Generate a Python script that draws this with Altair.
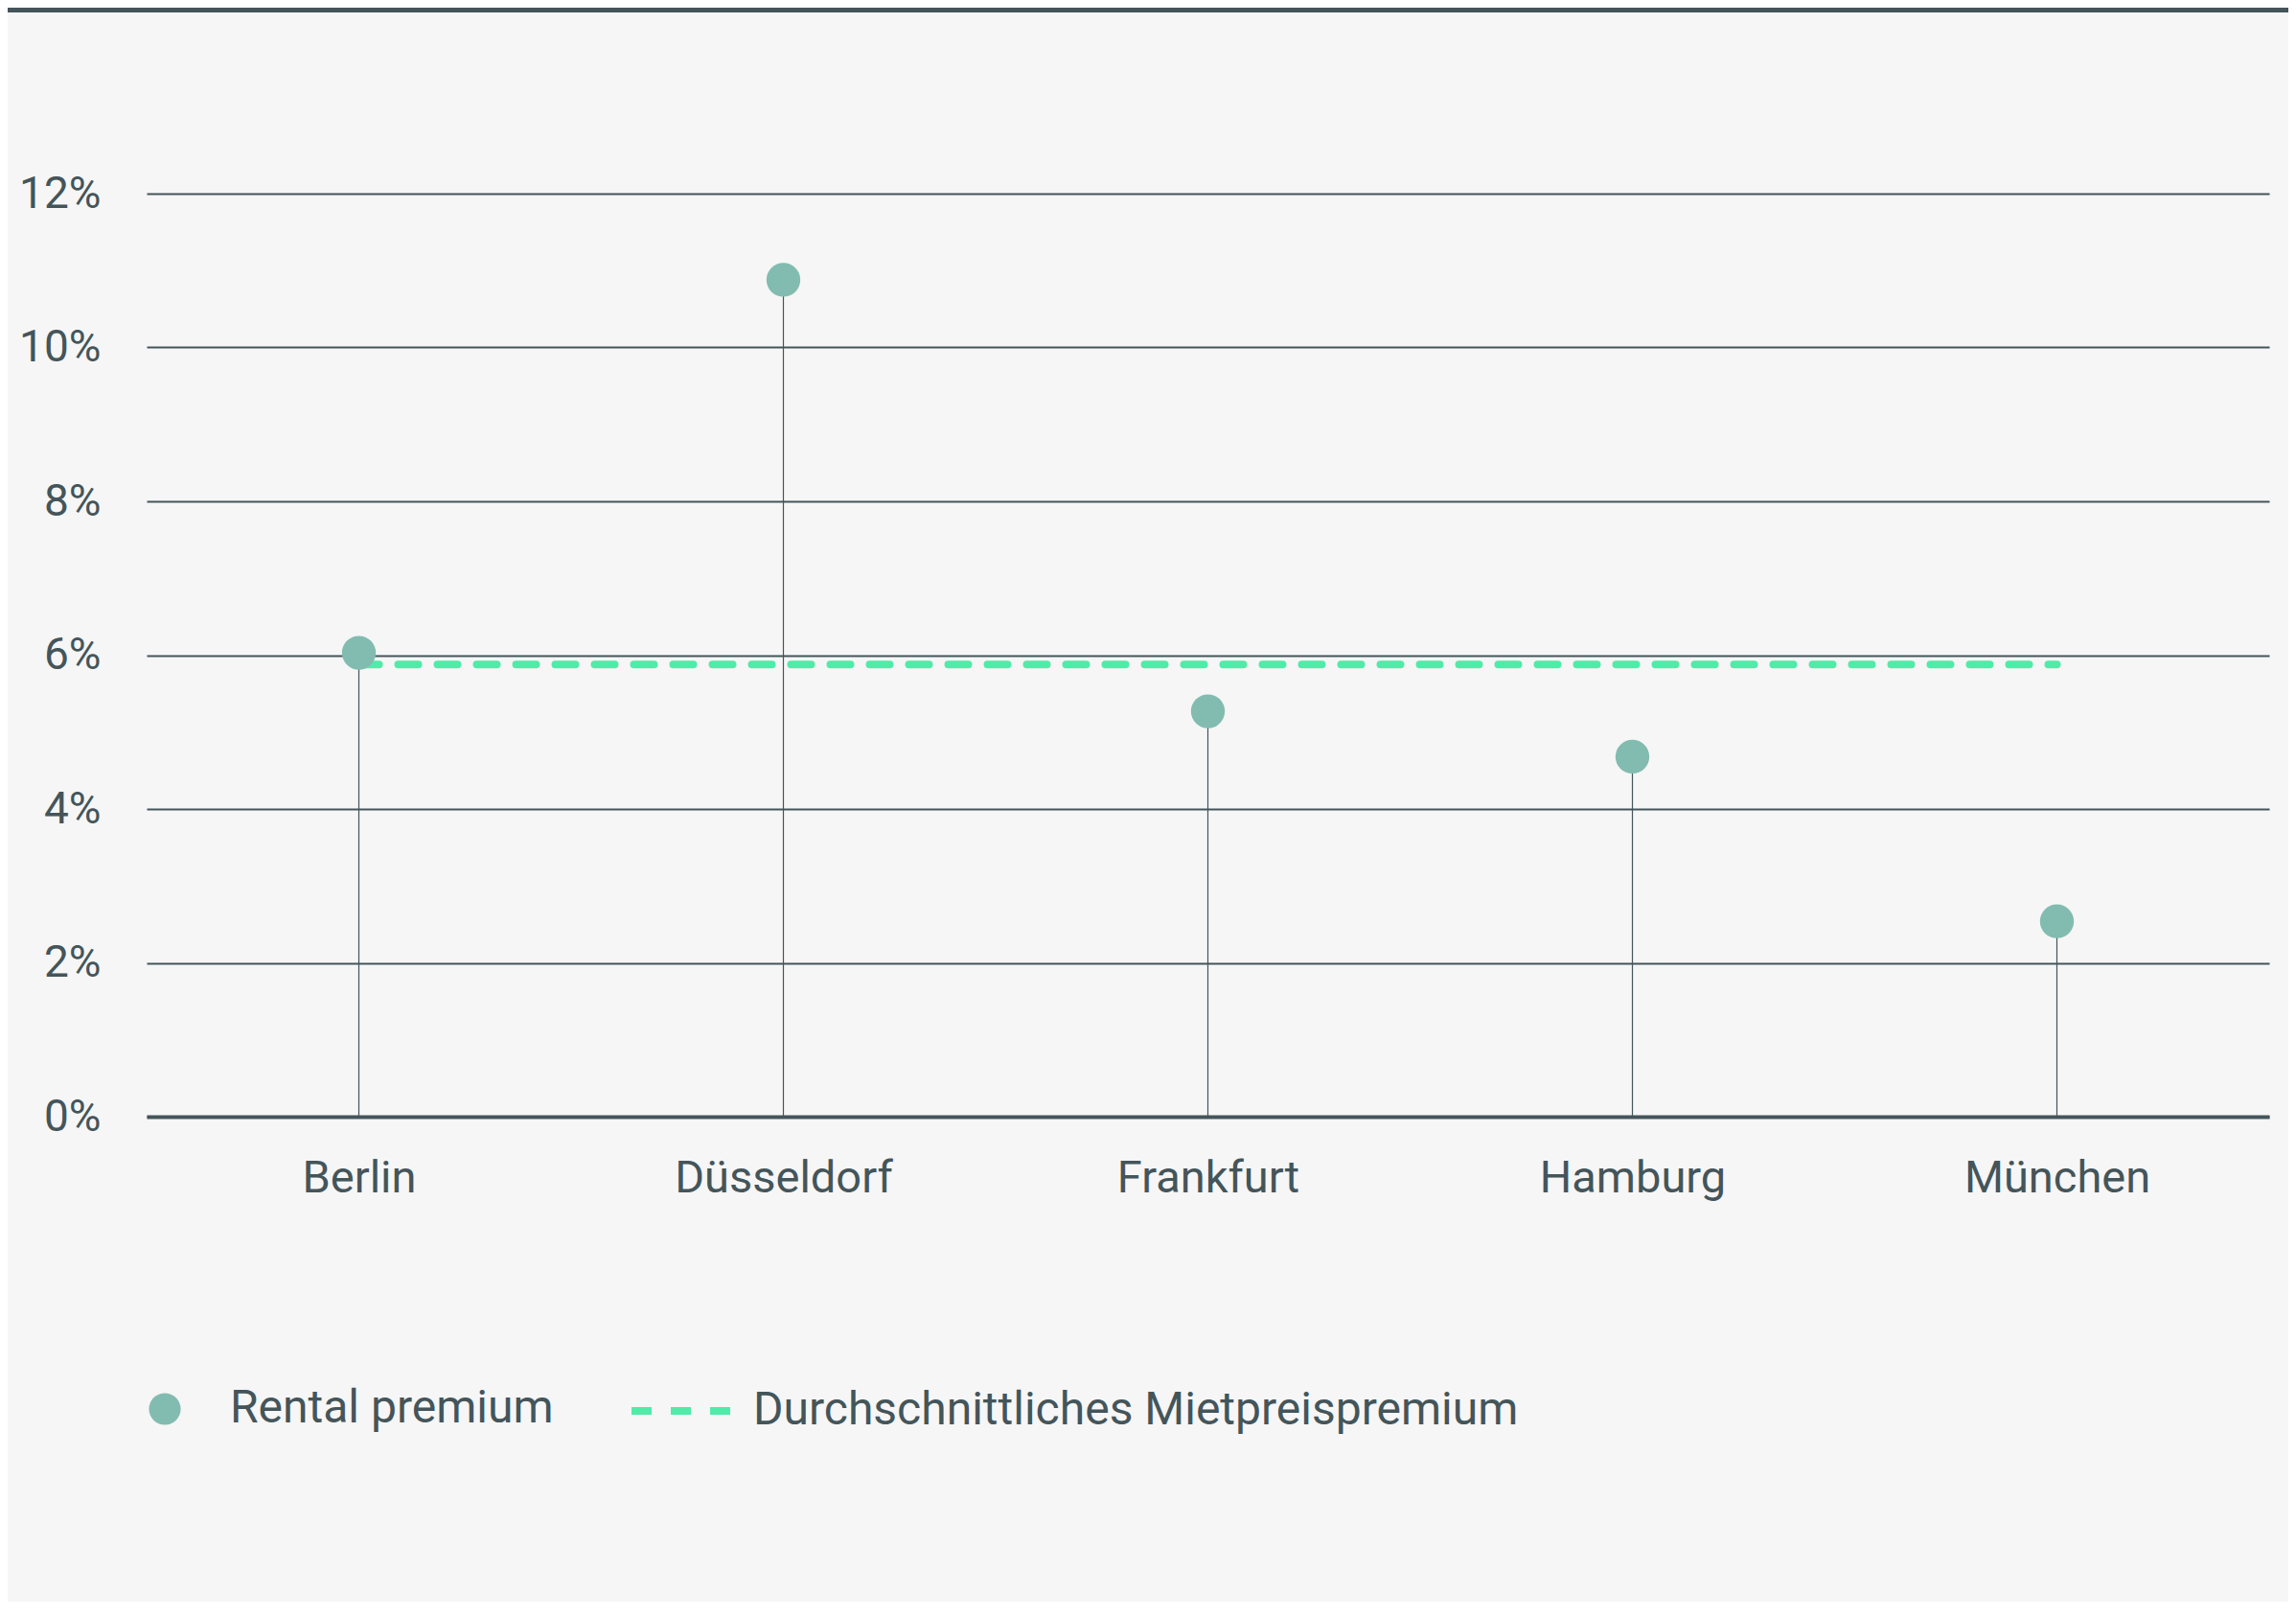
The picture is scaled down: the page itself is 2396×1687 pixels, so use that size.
import altair as alt
import pandas as pd

cities = ["Berlin", "Düsseldorf", "Frankfurt", "Hamburg", "München"]
premium = [6.03, 10.88, 5.27, 4.68, 2.54]
average = [5.88, 5.88, 5.88, 5.88, 5.88]
y_ticks = [0, 2, 4, 6, 8, 10, 12]

DARK = "#44555a"
POINT = "#82bcb0"
DASH = "#50eba8"
BG = "#f6f6f6"
FONT = "Roboto"

df = pd.DataFrame({
    "city": cities,
    "premium": premium,
    "average": average,
    "s1": ["Rental premium"] * len(cities),
    "s2": ["Durchschnittliches Mietpreispremium"] * len(cities),
})

W, H = 2215, 963

x_scale = alt.Scale(type="point", padding=0.5)
x = alt.X("city:N", sort=cities, scale=x_scale,
          axis=alt.Axis(title=None, labelAngle=0, ticks=False, domain=True,
                        domainColor=DARK, domainWidth=4, labelFontSize=47,
                        labelColor=DARK, labelFont=FONT, labelPadding=41, grid=False,
                        labelLimit=0))
y_scale = alt.Scale(domain=[0, 12], nice=False)
y_axis = alt.Axis(title=None, values=y_ticks, labelExpr="datum.value + '%'",
                  ticks=False, domain=False, grid=True, gridColor=DARK, gridWidth=2,
                  labelFontSize=46, labelColor=DARK, labelFont=FONT, labelPadding=48)

base = alt.Chart(df)

stems = base.mark_rule(color=DARK, strokeWidth=1.2).encode(
    x=x,
    y=alt.Y("premium:Q", scale=y_scale, axis=y_axis),
    y2=alt.datum(0),
)

avg_line = base.mark_line(strokeWidth=8, strokeCap="round").encode(
    x=alt.X("city:N", sort=cities, scale=x_scale),
    y=alt.Y("average:Q", scale=y_scale),
    color=alt.value(DASH),
    strokeDash=alt.StrokeDash("s2:N", scale=alt.Scale(range=[[21, 20]]),
                              legend=alt.Legend(title=None, orient="none", legendX=502, legendY=1212,
                                                symbolType="stroke", symbolSize=11664,
                                                symbolStrokeColor=DASH, symbolStrokeWidth=8,
                                                labelFontSize=48, labelColor=DARK, labelFont=FONT,
                                                labelOffset=15, padding=0, labelLimit=0)),
)

points = base.mark_circle(size=1250, opacity=1).encode(
    x=alt.X("city:N", sort=cities, scale=x_scale),
    y=alt.Y("premium:Q", scale=y_scale),
    color=alt.Color("s1:N", scale=alt.Scale(range=[POINT]),
                    legend=alt.Legend(title=None, orient="none", legendX=-5, legendY=1244,
                                      symbolType="circle", symbolSize=1100, symbolOpacity=1,
                                      labelFontSize=48, labelColor=DARK, labelFont=FONT,
                                      labelOffset=44, padding=0, labelLimit=0)),
)

top_bar = alt.Chart(pd.DataFrame({"a": [0]})).mark_rule(color=DARK, strokeWidth=6).encode(
    x=alt.value(-150), x2=alt.value(W + 30), y=alt.value(-192)
)

chart = alt.layer(stems, avg_line, points, top_bar).properties(
    width=W, height=H,
    autosize=alt.AutoSizeParams(type="none"),
    padding={"left": 145, "top": 194, "right": 20, "bottom": 506},
    background=BG,
).configure_view(stroke=None).resolve_scale(color="independent")

chart.save("out.html", embed_options={"renderer": "svg", "actions": False})
